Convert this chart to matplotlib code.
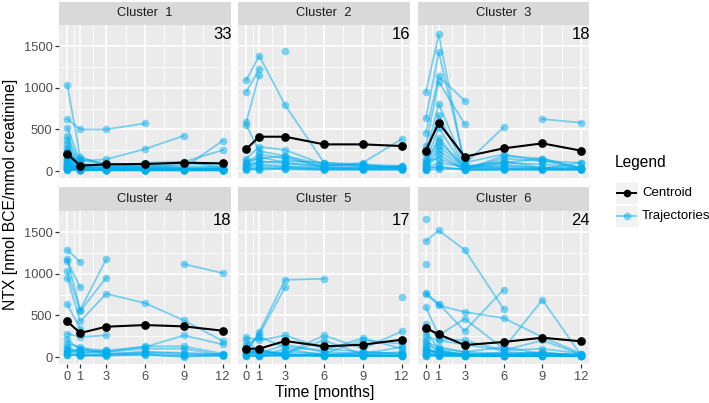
import numpy as np
import matplotlib
matplotlib.use('Agg')
import matplotlib.pyplot as plt
from matplotlib.lines import Line2D
from matplotlib.patches import Rectangle

plt.rcParams['font.family'] = ['Liberation Sans', 'DejaVu Sans']

nan = np.nan
months = [0, 1, 3, 6, 9, 12]
x_ticks = [0, 1, 3, 6, 9, 12]
y_ticks = [0, 500, 1000, 1500]
cluster_names = ['Cluster  1', 'Cluster  2', 'Cluster  3', 'Cluster  4', 'Cluster  5', 'Cluster  6']
cluster_counts = [33, 16, 18, 18, 17, 24]

c1_centroid = [204, 64, 80, 84, 100, 92]
c1_traj = [
    [1032, 170, 60, 50, 30, 20],
    [624, 500, 500, 572, nan, nan],
    [520, 120, 140, 264, 424, nan],
    [420, 90, 60, 40, 40, 364],
    [372, 60, 30, 100, 110, 252],
    [324, 40, 20, 20, 20, 20],
    [272, 50, 30, 20, 90, 80],
    [250, 30, 20, 10, 10, 20],
    [230, 80, 50, 30, 20, 10],
    [210, 20, 10, 10, 20, 30],
    [190, 40, 30, 20, 10, 10],
    [170, 30, 20, 60, 40, 20],
    [150, 20, 10, 10, 10, 10],
    [140, 60, 40, 30, 20, 60],
    [120, 10, 10, 10, 10, 10],
    [110, 30, 20, 20, 30, 20],
    [100, 20, 20, 10, 10, 10],
    [90, 40, 10, 20, 10, 10],
    [80, 20, 30, 10, 10, 20],
    [70, 10, 10, 10, 20, 10],
    [60, 30, 10, 10, 10, 10],
    [55, 20, 20, 30, 10, 10],
    [50, 10, 10, 10, 10, 20],
    [45, 20, 10, 20, 30, 10],
    [40, 10, 20, 10, 10, 10],
    [35, 10, 10, 10, 10, 10],
    [30, 20, 10, 10, 10, 30],
    [25, 10, 10, 20, 10, 10],
    [20, 10, 10, 10, 10, 10],
    [15, 10, 20, 10, 20, 10],
    [10, 10, 10, 10, 10, 10],
    [120, 150, 90, 70, 60, 40],
    [60, 130, 80, 50, 110, 40],
]

c2_centroid = [264, 412, 412, 320, 320, 300]
c2_traj = [
    [1092, 1384, 792, 100, 80, 60],
    [952, 1224, nan, nan, nan, nan],
    [592, 1152, nan, nan, nan, nan],
    [552, 240, 180, 80, 60, 40],
    [nan, nan, 1444, nan, nan, nan],
    [150, 292, 252, 80, 60, 40],
    [100, 200, 150, 60, 100, 384],
    [120, 150, 180, 40, 40, 50],
    [80, 100, 120, 100, 60, 50],
    [60, 80, 60, 40, 30, 30],
    [40, 60, 50, 30, 20, 40],
    [30, 30, 40, 20, 20, 20],
    [20, 10, 30, 20, 30, 20],
    [50, 120, 90, 60, 80, 30],
    [70, 170, 100, 50, 40, 60],
    [10, 40, 20, 10, 10, 10],
]

c3_centroid = [244, 580, 172, 272, 332, 244]
c3_traj = [
    [944, 1640, 60, 40, nan, nan],
    [632, 1424, 100, 200, 120, 40],
    [460, 1140, 844, nan, nan, nan],
    [300, 1072, 564, nan, nan, nan],
    [200, 804, 80, 524, nan, nan],
    [150, 672, 40, 100, 80, 40],
    [nan, nan, nan, nan, 624, 580],
    [100, 520, 30, 150, 120, 100],
    [80, 400, 20, 180, 150, 40],
    [60, 300, 40, 120, 40, 40],
    [40, 250, 20, 30, 20, 20],
    [20, 200, 10, 20, 20, 20],
    [120, 150, 30, 40, 30, 100],
    [30, 100, 50, 60, 40, 20],
    [10, 60, 10, 10, 10, 10],
    [50, 40, 20, 20, 20, 20],
    [10, 20, 30, 80, 30, 30],
    [100, 350, 60, 100, 150, 20],
]

c4_centroid = [428, 288, 364, 384, 368, 316]
c4_traj = [
    [1288, 1140, nan, nan, nan, nan],
    [1180, 568, 1172, nan, nan, nan],
    [1152, 836, nan, nan, nan, nan],
    [1028, 552, 952, nan, nan, nan],
    [952, 428, 760, 648, 440, 192],
    [632, 340, nan, nan, nan, nan],
    [nan, nan, nan, nan, 1116, 1008],
    [280, 240, 260, nan, nan, nan],
    [212, 80, 60, 128, 128, 40],
    [120, 60, 40, 32, 0, 20],
    [100, 40, 80, 120, 260, 152],
    [80, 20, 20, nan, nan, nan],
    [60, 80, 60, 100, 100, 20],
    [40, 20, 30, 60, 40, 20],
    [20, 30, 10, 40, 20, 10],
    [50, 100, 80, nan, nan, nan],
    [160, 120, 40, 60, 50, 30],
    [30, 10, 20, 20, 10, 40],
]

c5_centroid = [100, 100, 192, 128, 148, 208]
c5_traj = [
    [60, 300, 928, 940, nan, nan],
    [80, 268, 840, nan, nan, nan],
    [nan, nan, nan, nan, nan, 720],
    [240, 200, 260, 100, 60, 40],
    [200, 60, 40, 260, 100, 308],
    [150, 240, 120, 80, 228, 100],
    [120, 40, 60, 40, 200, 160],
    [100, 20, 20, 20, 40, 20],
    [80, 60, 40, 200, 30, 60],
    [60, 30, 20, 40, 20, 20],
    [40, 10, 100, 20, 20, 10],
    [30, 80, 30, 10, 10, 20],
    [20, 10, 10, 30, 10, 10],
    [10, 20, 20, 20, 60, 40],
    [50, 40, 150, 60, 40, 120],
    [20, 100, 10, 10, 10, 10],
    [10, 10, 40, 10, 20, 10],
]

c6_centroid = [348, 272, 144, 180, 232, 188]
c6_traj = [
    [1392, 1520, 1288, 580, nan, nan],
    [1660, nan, nan, nan, nan, nan],
    [1120, nan, nan, nan, nan, nan],
    [768, 640, 312, 808, nan, nan],
    [760, 620, 540, 468, 240, 40],
    [600, 260, 460, 100, 688, 20],
    [400, 220, 200, 80, 200, 30],
    [300, 100, 60, 40, 40, 20],
    [250, 200, 150, 80, 100, 40],
    [200, 60, 20, 20, 20, 20],
    [150, 80, 30, 40, 50, 20],
    [120, 40, 20, 20, 20, 10],
    [100, 30, 10, 10, 30, 20],
    [80, 60, 40, 30, 20, 10],
    [60, 20, 20, 10, 10, 10],
    [40, 40, 10, 60, 40, 30],
    [30, 10, 10, 10, 10, 10],
    [20, 20, 30, 20, 20, 20],
    [10, 10, 10, 10, 20, 10],
    [50, 80, 20, 30, 10, 20],
    [180, 120, 60, 120, 40, 30],
    [90, 50, 30, 20, 60, 10],
    [350, nan, nan, nan, nan, nan],
    [15, 30, 20, 10, 10, 10],
]

all_traj = [c1_traj, c2_traj, c3_traj, c4_traj, c5_traj, c6_traj]
all_centroid = [c1_centroid, c2_centroid, c3_centroid, c4_centroid, c5_centroid, c6_centroid]

TRAJ_COLOR = '#00AEEF'
TRAJ_ALPHA = 0.5
W, H = 709, 403
fig = plt.figure(figsize=(W / 100, H / 100), dpi=100)
fig.patch.set_facecolor('white')


def px_axes(x0, y0, w, h, **kw):
    return fig.add_axes([x0 / W, 1 - (y0 + h) / H, w / W, h / H], **kw)


col_left = [59.5, 238.5, 418.0]
panel_w = 171
row_top = [25, 211]
panel_h = 153
strip_h = 23.5

for i in range(6):
    r, c = divmod(i, 3)
    ax = px_axes(col_left[c], row_top[r], panel_w, panel_h)
    ax.set_facecolor('#EBEBEB')
    for s in ax.spines.values():
        s.set_visible(False)
    ax.set_xlim(-0.6, 12.6)
    ax.set_ylim(-84, 1754)
    ax.set_xticks(x_ticks)
    ax.set_xticks([0.5, 2, 4.5, 7.5, 10.5], minor=True)
    ax.set_yticks(y_ticks)
    ax.set_yticks([250, 750, 1250], minor=True)
    ax.grid(which='major', color='white', linewidth=1.1)
    ax.grid(which='minor', color='white', linewidth=0.55)
    ax.set_axisbelow(True)
    ax.tick_params(which='minor', length=0)
    ax.tick_params(which='major', length=3, color='#333333', width=0.9,
                   labelcolor='#4D4D4D', labelsize=9.3, pad=2)
    if r == 0:
        ax.tick_params(axis='x', which='major', length=0, labelbottom=False)
    if c != 0:
        ax.tick_params(axis='y', which='major', length=0, labelleft=False)
    x = np.array(months, dtype=float)
    for traj in all_traj[i]:
        y = np.array(traj, dtype=float)
        m = ~np.isnan(y)
        ax.plot(x[m], y[m], color=TRAJ_COLOR, alpha=TRAJ_ALPHA, linewidth=1.3,
                marker='o', markersize=5.5, markeredgewidth=0, zorder=2)
    ax.plot(x, all_centroid[i], color='black', linewidth=1.5, marker='o',
            markersize=6.3, markeredgewidth=0, zorder=3)
    ax.text(1.005, 0.935, str(cluster_counts[i]), transform=ax.transAxes,
            ha='right', va='center', fontsize=12, color='black')

    sax = px_axes(col_left[c], row_top[r] - strip_h, panel_w, strip_h)
    sax.set_facecolor('#D9D9D9')
    sax.set_xticks([])
    sax.set_yticks([])
    for s in sax.spines.values():
        s.set_visible(False)
    sax.text(0.5, 0.5, cluster_names[i], ha='center', va='center',
             fontsize=9.3, color='#1A1A1A', transform=sax.transAxes)

fig.text((59.5 + 418 + 171) / 2 / W, 1 - 393 / H, 'Time [months]',
         ha='center', va='center', fontsize=11.3)
fig.text(11 / W, 1 - 194 / H, 'NTX [nmol BCE/mmol creatinine]',
         ha='center', va='center', rotation=90, fontsize=11.3)

# legend
fig.text(615 / W, 1 - 162 / H, 'Legend', ha='left', va='center', fontsize=11.2)
entries = [('Centroid', 'black', 1.0), ('Trajectories', TRAJ_COLOR, TRAJ_ALPHA)]
key_tops = [182, 205]
for (lab, colr, alp), kt in zip(entries, key_tops):
    fig.add_artist(Rectangle((615 / W, 1 - (kt + 22) / H), 23 / W, 22 / H,
                             transform=fig.transFigure, facecolor='#F2F2F2',
                             edgecolor='white', linewidth=0.5))
    yc = 1 - (kt + 11) / H
    fig.add_artist(Line2D([617 / W, 636 / W], [yc, yc], transform=fig.transFigure,
                          color=colr, alpha=alp, linewidth=1.4))
    fig.add_artist(Line2D([626.5 / W], [yc], transform=fig.transFigure,
                          color=colr, alpha=alp, marker='o', markersize=5.5,
                          markeredgewidth=0))
    fig.text(642 / W, yc, lab, ha='left', va='center', fontsize=9.5)

fig.savefig('out.png', dpi=100)
